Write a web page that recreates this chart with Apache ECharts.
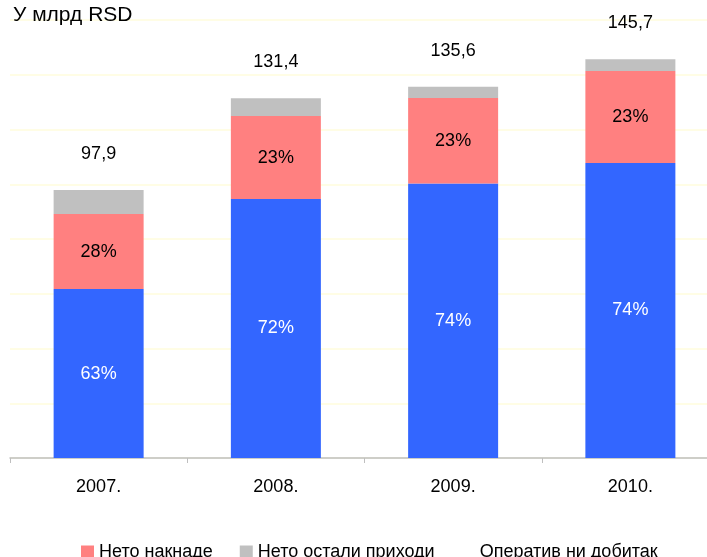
<!DOCTYPE html>
<html>
<head>
<meta charset="utf-8">
<script src="https://cdn.jsdelivr.net/npm/echarts@6/dist/echarts.min.js"></script>
<style>
  html, body {margin: 0; padding: 0; background: #fff; overflow: hidden;}
  /* plot runs a little past the right edge, like the original */
  #chart {width: 719px; height: 557px;}
</style>
</head>
<body>
<div id="chart"></div>
<script>
const years = ['2007.', '2008.', '2009.', '2010.'];
const totals = ['97,9', '131,4', '135,6', '145,7'];
// segments in bn RSD
const operating = [61.7, 94.6, 100.3, 107.8];
const fees = [27.4, 30.3, 31.2, 33.6];
const other = [8.8, 6.5, 4.1, 4.3];
const operatingPct = ['63%', '72%', '74%', '74%'];
const feesPct = ['28%', '23%', '23%', '23%'];

const font = 'Arial, "Liberation Sans", sans-serif';

const chart = echarts.init(document.getElementById('chart'));
chart.setOption({
  animation: false,
  textStyle: {fontFamily: font},
  title: {
    text: 'У млрд RSD',
    left: 8, top: 0,
    textStyle: {fontSize: 21, fontWeight: 'normal', color: '#000', fontFamily: font}
  },
  grid: {left: 10, right: 0, top: 20, bottom: 99},
  legend: {
    left: 76, top: 538,
    itemWidth: 13, itemHeight: 13, itemGap: 27,
    icon: 'rect',
    textStyle: {fontSize: 18, color: '#000', fontFamily: font},
    data: [
      'Нето накнаде',
      'Нето остали приходи',
      {name: 'Оператив ни добитак', itemStyle: {opacity: 0}}
    ]
  },
  xAxis: {
    type: 'category',
    data: years,
    axisLine: {lineStyle: {color: '#BFBFBF', width: 1.5}},
    axisTick: {show: true, length: 5, lineStyle: {color: '#BFBFBF'}},
    axisLabel: {color: '#000', fontSize: 18, margin: 20, fontFamily: font}
  },
  yAxis: {
    type: 'value',
    min: 0, max: 160, interval: 20,
    axisLine: {show: false},
    axisTick: {show: false},
    axisLabel: {show: false},
    splitLine: {lineStyle: {color: '#FFFCDC', width: 1.5}}
  },
  series: [
    {
      name: 'Оператив ни добитак',
      type: 'bar', stack: 'a', barWidth: 90,
      data: operating,
      itemStyle: {color: '#3366FF'},
      label: {
        show: true, position: 'inside', color: '#fff', fontSize: 18,
        formatter: p => operatingPct[p.dataIndex]
      }
    },
    {
      name: 'Нето накнаде',
      type: 'bar', stack: 'a',
      data: fees,
      itemStyle: {color: '#FF8080'},
      label: {
        show: true, position: 'inside', color: '#000', fontSize: 18,
        formatter: p => feesPct[p.dataIndex]
      }
    },
    {
      name: 'Нето остали приходи',
      type: 'bar', stack: 'a',
      data: other,
      itemStyle: {color: '#C0C0C0'},
      label: {
        show: true, position: 'top', distance: 27, color: '#000', fontSize: 18,
        formatter: p => totals[p.dataIndex]
      }
    }
  ]
});
</script>
</body>
</html>
